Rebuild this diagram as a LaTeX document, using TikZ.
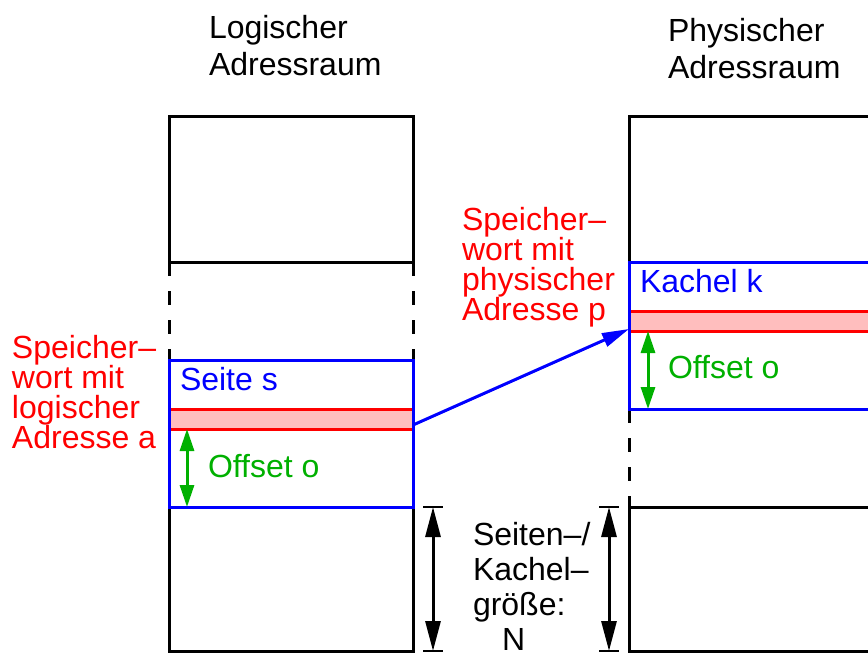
\documentclass[tikz,border=0pt]{standalone}
\usepackage{fontspec}
\setmainfont{Liberation Sans}
\usetikzlibrary{arrows.meta}
\definecolor{wordred}{RGB}{255,0,0}
\definecolor{bandpink}{RGB}{255,190,190}
\definecolor{offgreen}{RGB}{0,176,0}
\definecolor{pageblue}{RGB}{0,0,255}

\begin{document}
\begin{tikzpicture}[x=1pt,y=-1pt,line width=3pt,line cap=butt,
  frame/.style={draw=black,line width=3pt},
  gapline/.style={draw=black,line width=3pt,dash pattern=on 14pt off 15pt},
  band/.style={fill=bandpink,draw=none,inner sep=0pt,outer sep=0pt,anchor=north west},
  bandedge/.style={draw=wordred,line width=3pt},
  pagebox/.style={draw=pageblue,line width=3pt},
  maparrow/.style={draw=pageblue,line width=3pt,-{Triangle[length=27pt,width=14pt]}},
  offarrow/.style={draw=offgreen,line width=3pt,{Triangle[length=22pt,width=14pt]}-{Triangle[length=22pt,width=14pt]}},
  sizearrow/.style={draw=black,line width=3pt,{Triangle[length=30pt,width=15pt]}-{Triangle[length=30pt,width=15pt]}},
  tick/.style={draw=black,line width=2.5pt},
  lbl/.style={inner sep=0pt,outer sep=0pt,anchor=base west,align=left},
  big/.style={font=\fontsize{32}{37}\selectfont},
  tight/.style={font=\fontsize{32}{30}\selectfont},
  mid/.style={font=\fontsize{32}{35}\selectfont}]
\useasboundingbox (0,0) rectangle (868,653);

% logical address space: upper frame, gap, bottom frame
\draw[frame] (169,116) rectangle (413,262);
\draw[gapline] (169,262) -- (169,360);
\draw[gapline] (413,262) -- (413,360);
\draw[frame] (169,507) rectangle (413,651);

% physical address space
\draw[frame] (629,116) rectangle (890,262);
\draw[gapline] (629,409) -- (629,507);
\draw[frame] (629,507) rectangle (890,651);

% memory words (pink bands)
\node[band,minimum width=244pt,minimum height=20pt] (bandL) at (169,409) {};
\node[band,minimum width=261pt,minimum height=20pt] (bandR) at (629,311) {};
\draw[bandedge] (bandL.north west) -- (bandL.north east);
\draw[bandedge] (bandL.south west) -- (bandL.south east);
\draw[bandedge] (bandR.north west) -- (bandR.north east);
\draw[bandedge] (bandR.south west) -- (bandR.south east);

% page and frame boxes
\draw[pagebox] (169,360) rectangle (413,507);
\draw[pagebox] (629,262) rectangle (890,409);

% offsets
\coordinate (oLtop) at ([xshift=18pt]bandL.south west);
\coordinate (oLbot) at (187,507);
\coordinate (oRtop) at ([xshift=19pt]bandR.south west);
\coordinate (oRbot) at (648,409);
\draw[offarrow] (oLtop) -- (oLbot);
\draw[offarrow] (oRtop) -- (oRbot);

% mapping arrow
\draw[maparrow] ([yshift=4pt]bandL.south east) -- ([yshift=2pt]bandR.south west);

% page / frame size
\coordinate (sLt) at (433,507);
\coordinate (sLb) at (433,651);
\coordinate (sRt) at (609,507);
\coordinate (sRb) at (609,651);
\draw[sizearrow] (sLt) -- (sLb);
\draw[sizearrow] (sRt) -- (sRb);
\draw[tick] ([xshift=-10pt]sLt) -- ([xshift=10pt]sLt);
\draw[tick] ([xshift=-10pt]sLb) -- ([xshift=10pt]sLb);
\draw[tick] ([xshift=-10pt]sRt) -- ([xshift=10pt]sRt);
\draw[tick] ([xshift=-10pt]sRb) -- ([xshift=10pt]sRb);

% labels (anchored at the baseline of their last line)
\node[lbl,big] (titleL) at (209,75) {Logischer\\Adressraum};
\node[lbl,big] (titleR) at (668,78) {Physischer\\Adressraum};
\node[lbl,tight,text=wordred] (wordL) at (12,448) {Speicher–\\wort mit\\logischer\\Adresse a};
\node[lbl,tight,text=wordred] (wordR) at (462,320) {Speicher–\\wort mit\\physischer\\Adresse p};
\node[lbl,big,text=pageblue] (seite) at (180,390) {Seite s};
\node[lbl,big,text=pageblue] (kachel) at (640,292) {Kachel k};
\node[lbl,big,text=offgreen] (offL) at (208,477) {Offset o};
\node[lbl,big,text=offgreen] (offR) at (668,378) {Offset o};
\node[lbl,mid] (size) at (473,650) {Seiten–/\\Kachel–\\größe:\\\hspace*{29pt}N};
\end{tikzpicture}
\end{document}
